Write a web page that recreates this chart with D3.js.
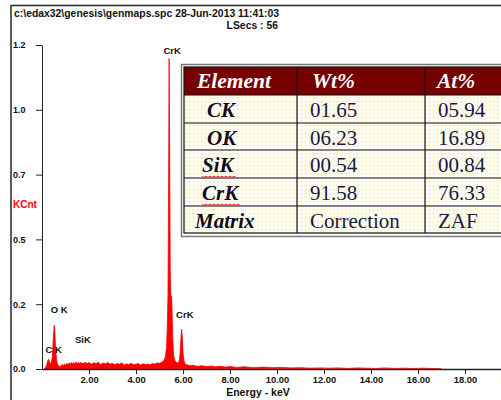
<!DOCTYPE html>
<html><head><meta charset="utf-8">
<script src="https://cdn.jsdelivr.net/npm/d3@7"></script>
<style>
html,body{margin:0;padding:0;background:#fff;}
svg{display:block;}
</style></head>
<body>
<script>
// ---- data ----
const energy = [0.10,0.15,0.20,0.24,0.28,0.32,0.36,0.40,0.44,0.47,0.50,0.52,0.54,0.56,0.58,0.62,0.66,0.70,0.75,0.80,0.85,0.90,0.95,1.00,1.05,1.10,1.15,1.20,1.25,1.30,1.35,1.40,1.45,1.50,1.55,1.60,1.65,1.70,1.75,1.80,1.85,1.90,1.95,2.00,2.10,2.20,2.30,2.40,2.50,2.60,2.70,2.80,2.90,3.00,3.10,3.20,3.30,3.40,3.50,3.60,3.70,3.80,3.90,4.00,4.10,4.20,4.30,4.40,4.50,4.60,4.70,4.80,4.90,5.00,5.10,5.18,5.25,5.30,5.33,5.36,5.38,5.40,5.41,5.42,5.44,5.46,5.48,5.52,5.56,5.60,5.66,5.72,5.78,5.84,5.88,5.91,5.94,5.97,6.00,6.04,6.10,6.20,6.30,6.40,6.60,6.80,7.00,7.20,7.40,7.60,7.80,8.00,8.30,8.60,9.00,9.40,9.80,10.20,10.60,11.00,11.40,11.80,12.20,12.60,13.00,13.40,13.80,14.20,14.60,15.00,15.40,15.80,16.20,16.60,17.00,17.40];
const kcnt   = [0.000,0.006,0.014,0.030,0.036,0.026,0.020,0.024,0.045,0.095,0.140,0.162,0.150,0.110,0.070,0.034,0.018,0.012,0.009,0.011,0.016,0.013,0.018,0.015,0.020,0.017,0.022,0.018,0.024,0.019,0.023,0.020,0.026,0.019,0.024,0.021,0.025,0.018,0.023,0.020,0.026,0.019,0.022,0.024,0.018,0.023,0.020,0.025,0.017,0.022,0.019,0.024,0.018,0.021,0.016,0.020,0.018,0.022,0.015,0.019,0.017,0.021,0.016,0.018,0.020,0.015,0.019,0.017,0.018,0.016,0.020,0.018,0.022,0.021,0.025,0.030,0.045,0.080,0.150,0.270,0.550,0.950,1.150,1.000,0.650,0.330,0.275,0.265,0.120,0.050,0.030,0.024,0.022,0.030,0.060,0.110,0.148,0.120,0.060,0.030,0.018,0.015,0.012,0.014,0.010,0.012,0.009,0.011,0.008,0.010,0.007,0.009,0.006,0.008,0.005,0.007,0.005,0.006,0.004,0.005,0.003,0.004,0.003,0.004,0.002,0.004,0.003,0.002,0.004,0.002,0.003,0.002,0.003,0.002,0.001];
const yTickValues = [0, 0.24, 0.48, 0.72, 0.96, 1.2];
const yTickLabels = ["0.0","0.2","0.5","0.7","1.0","1.2"];
const xTickValues = [2,4,6,8,10,12,14,16,18,20];
const peakLabels = ["CrK","CrK","O K","C K","SiK"];
const peakEnergy = [5.41, 5.95, 0.52, 0.28, 1.74];
const peakValue  = [1.15, 0.148, 0.162, 0.036, 0.08];
const tableHeader = ["Element","Wt%","At%"];
const tableElements = ["CK","OK","SiK","CrK","Matrix"];
const tableWt = ["01.65","06.23","00.54","91.58","Correction"];
const tableAt = ["05.94","16.89","00.84","76.33","ZAF"];
const misspelled = ["SiK","CrK"];

// ---- drawing ----
const W = 501, H = 400;
const svg = d3.select("body").append("svg").attr("width", W).attr("height", H);
const defs = svg.append("defs");
const pat = defs.append("pattern").attr("id","dots").attr("width",4).attr("height",4).attr("patternUnits","userSpaceOnUse");
pat.append("rect").attr("width",4).attr("height",4).attr("fill","#fffff0");
pat.append("rect").attr("x",1).attr("y",1).attr("width",1.3).attr("height",1.3).attr("fill","#f5f040");

// outer frame
svg.append("rect").attr("x",11).attr("y",5.5).attr("width",W).attr("height",H)
  .attr("fill","none").attr("stroke","#333").attr("stroke-width",1.6);

const sans = "'Liberation Sans', Arial, sans-serif";
svg.append("text").attr("x",14).attr("y",17).attr("font-family",sans).attr("font-weight","bold")
  .attr("font-size",10.4).attr("fill","#111").text("c:\\edax32\\genesis\\genmaps.spc  28-Jun-2013 11:41:03");
svg.append("text").attr("x",278).attr("y",29).attr("text-anchor","end").attr("font-family",sans).attr("font-weight","bold")
  .attr("font-size",10.4).attr("fill","#111").text("LSecs : 56");

const x = d3.scaleLinear().domain([0,20]).range([42,512]);
const y = d3.scaleLinear().domain([0,1.2]).range([369,45]);

// spectrum
const pts = energy.map((e,i)=>[e,kcnt[i]]);
svg.append("path").datum(pts)
  .attr("d", d3.area().x(d=>x(d[0])).y0(y(0)).y1(d=>y(d[1])))
  .attr("fill","#ff0000").attr("stroke","#ff0000").attr("stroke-width",0.8);

// y axis
const yAxis = d3.axisLeft(y).tickValues(yTickValues).tickFormat((d,i)=>yTickLabels[i]).tickSize(6).tickSizeOuter(0);
const gy = svg.append("g").attr("transform","translate(42,0)").call(yAxis);
gy.selectAll("path,line").attr("stroke","#222");
gy.selectAll("text").attr("x",-29).attr("text-anchor","start").attr("font-family",sans)
  .attr("font-weight","bold").attr("font-size",9).attr("fill","#111");

// x axis
const xAxis = d3.axisBottom(x).tickValues(xTickValues).tickFormat(d3.format(".2f")).tickSize(5).tickSizeOuter(0);
const gx = svg.append("g").attr("transform","translate(0,369)").call(xAxis);
gx.selectAll("path,line").attr("stroke","#222");
gx.select(".domain").attr("stroke-width",1.4);
gx.selectAll("text").attr("font-family",sans).attr("font-weight","bold").attr("font-size",9.4).attr("fill","#111")
  .attr("y",14).attr("dy",0);

svg.append("text").attr("x",258).attr("y",396).attr("text-anchor","middle").attr("font-family",sans)
  .attr("font-weight","bold").attr("font-size",10.5).attr("fill","#111").text("Energy - keV");
svg.append("text").attr("x",13).attr("y",208).attr("font-family",sans)
  .attr("font-weight","bold").attr("font-size",10).attr("fill","#ff0000").text("KCnt");

// peak labels (offsets relative to the peak they annotate)
const lblDx = [3, 3, 5, 5, 0];
const lblDy = [-5, -11, -12, -6, -4];
peakLabels.forEach((t,i)=>{
  svg.append("text").attr("x", x(peakEnergy[i]) + lblDx[i])
    .attr("y", y(peakValue[i]) + lblDy[i])
    .attr("text-anchor","middle")
    .attr("font-family",sans).attr("font-weight","bold").attr("font-size",9.5).attr("fill","#111").text(t);
});

// table
const serif = "'Liberation Serif', 'Times New Roman', serif";
const tx0 = 184, colX = [184,297,425,510], rowY = [67,95,123,150,178,206,233];
svg.append("rect").attr("x",181.5).attr("y",64.5).attr("width",340).attr("height",172)
  .attr("fill","#fff").attr("stroke","#777").attr("stroke-width",1.5);
svg.append("rect").attr("x",tx0).attr("y",rowY[0]).attr("width",330).attr("height",rowY[6]-rowY[0])
  .attr("fill","url(#dots)");
svg.append("rect").attr("x",tx0).attr("y",rowY[0]).attr("width",330).attr("height",rowY[1]-rowY[0])
  .attr("fill","#760000");
for (let r=1;r<6;r++) svg.append("line").attr("x1",tx0).attr("x2",510).attr("y1",rowY[r]).attr("y2",rowY[r]).attr("stroke","#111").attr("stroke-width",1.2);
for (let c=1;c<3;c++) svg.append("line").attr("x1",colX[c]).attr("x2",colX[c]).attr("y1",rowY[0]).attr("y2",rowY[6]).attr("stroke","#111").attr("stroke-width",1.2);
svg.append("rect").attr("x",tx0).attr("y",rowY[0]).attr("width",330).attr("height",rowY[6]-rowY[0])
  .attr("fill","none").attr("stroke","#111").attr("stroke-width",1.2);

const hdrX = [197,312,437];
tableHeader.forEach((h,i)=>{
  svg.append("text").attr("x",hdrX[i]).attr("y",88).attr("font-family",serif).attr("font-style","italic")
    .attr("font-weight","bold").attr("font-size",21.5).attr("fill","#fff").text(h);
});
const elX = [207,207,202,202,195];
tableElements.forEach((e,i)=>{
  const base = rowY[i+1] + 22;
  const t = svg.append("text").attr("x",elX[i]).attr("y",base).attr("font-family",serif).attr("font-style","italic")
    .attr("font-weight","bold").attr("font-size",21).attr("fill","#0d0d1a").text(e);
  if (misspelled.includes(e)) {
    const bb = t.node().getBBox();
    const zz = d3.path();
    zz.moveTo(bb.x, base+4);
    let k=0;
    for (let xx=bb.x+2; xx<=bb.x+bb.width+1; xx+=2){ zz.lineTo(xx, base+4+(k%2===0?1.5:0)); k++; }
    svg.append("path").attr("d",zz.toString()).attr("fill","none").attr("stroke","#e02020").attr("stroke-width",1);
  }
  svg.append("text").attr("x",310).attr("y",base).attr("font-family",serif)
    .attr("font-size",21).attr("fill","#1a1a3a").text(tableWt[i]);
  svg.append("text").attr("x",438).attr("y",base).attr("font-family",serif)
    .attr("font-size",21).attr("fill","#1a1a3a").text(tableAt[i]);
});
</script>
</body></html>
